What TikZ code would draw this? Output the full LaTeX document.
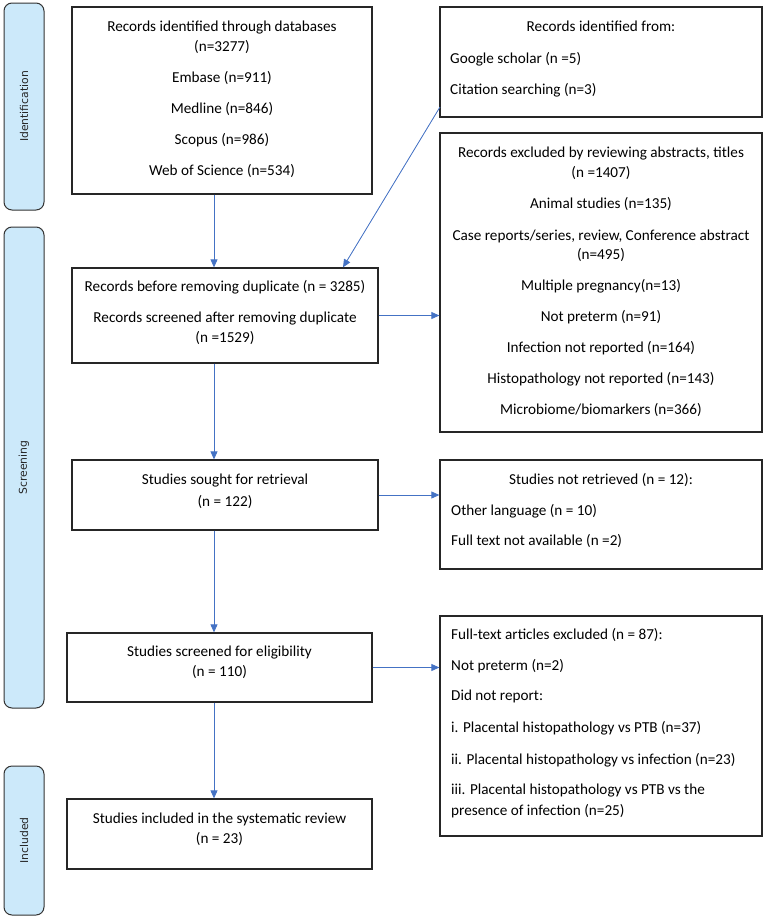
\documentclass[tikz,border=0pt]{standalone}
\usepackage{fontspec}
\setmainfont{Carlito}
\newfontfamily\sidefont{DejaVu Sans}
\usetikzlibrary{arrows.meta}
\definecolor{arrowblue}{HTML}{4472C4}
\definecolor{sidefill}{HTML}{CCE9FA}
\begin{document}
\begin{tikzpicture}[x=1pt,y=-1pt,
  box/.style={draw=black!85, line width=1.3pt, inner sep=0pt},
  side/.style={draw=black!80, line width=1pt, fill=sidefill, rounded corners=8pt, rotate=90, minimum height=40pt, inner sep=0pt, font=\sidefont\fontsize{10.8}{12}\selectfont, text=black!85},
  txt/.style={font=\fontsize{15.2}{18}\selectfont, inner sep=0pt, text height=10pt, text depth=3pt, text=black},
  lft/.style={txt, anchor=west},
  arr/.style={draw=arrowblue, line width=0.8pt, -{Triangle[length=8pt,width=7pt]}, fill=arrowblue}]
\useasboundingbox (0,0) rectangle (764,919);
\fill[white] (0,0) rectangle (764,919);

% side bars
\node[side, minimum width=207pt] (S1) at (24,106.5) {Identification};
\node[side, minimum width=481pt] (S2) at (24,467.5) {Screening};
\node[side, minimum width=149pt] (S3) at (24,840.5) {Included};

% boxes
\node[box, minimum width=300pt, minimum height=187pt] (A) at (222,100.5) {};
\node[box, minimum width=322pt, minimum height=110pt] (B) at (601,62) {};
\node[box, minimum width=322pt, minimum height=299pt] (C) at (601,282.5) {};
\node[box, minimum width=306pt, minimum height=95pt] (D) at (225,315.5) {};
\node[box, minimum width=306pt, minimum height=70pt] (E) at (225,495) {};
\node[box, minimum width=322pt, minimum height=109pt] (F) at (601,514.5) {};
\node[box, minimum width=305pt, minimum height=69pt] (G) at (219.5,667.5) {};
\node[box, minimum width=322pt, minimum height=220pt] (H) at (601,726) {};
\node[box, minimum width=305pt, minimum height=70pt] (I) at (219.5,834) {};

% texts A
\node[txt] (a1) at (222,28) {Records identified through databases};
\node[txt] (a2) at (222,48) {(n=3277)};
\node[txt] (a3) at (222,79) {Embase (n=911)};
\node[txt] (a4) at (222,110) {Medline (n=846)};
\node[txt] (a5) at (222,141) {Scopus (n=986)};
\node[txt] (a6) at (222,172) {Web of Science (n=534)};
% texts B
\node[txt] (b1) at (601,28) {Records identified from:};
\node[lft] (b2) at (450,60) {Google scholar (n =5)};
\node[lft] (b3) at (450,91) {Citation searching (n=3)};
% texts C
\node[txt] (c1) at (601,154) {Records excluded by reviewing abstracts, titles};
\node[txt] (c2) at (601,174) {(n =1407)};
\node[txt] (c3) at (601,205) {Animal studies (n=135)};
\node[txt] (c4) at (601,237) {Case reports/series, review, Conference abstract};
\node[txt] (c5) at (601,256) {(n=495)};
\node[txt] (c6) at (601,287) {Multiple pregnancy(n=13)};
\node[txt] (c7) at (601,318) {Not preterm (n=91)};
\node[txt] (c8) at (601,349) {Infection not reported (n=164)};
\node[txt] (c9) at (601,380) {Histopathology not reported (n=143)};
\node[txt] (c10) at (601,411) {Microbiome/biomarkers (n=366)};
% texts D
\node[txt] (d1) at (225,288) {Records before removing duplicate (n = 3285)};
\node[txt] (d2) at (225,319) {Records screened after removing duplicate};
\node[txt] (d3) at (225,339) {(n =1529)};
% texts E
\node[txt] (e1) at (225,481) {Studies sought for retrieval};
\node[txt] (e2) at (225,503) {(n = 122)};
% texts F
\node[txt] (f1) at (601,481) {Studies not retrieved (n = 12):};
\node[lft] (f2) at (451,512) {Other language (n = 10)};
\node[lft] (f3) at (451,542) {Full text not available (n =2)};
% texts G
\node[txt] (g1) at (219.5,653) {Studies screened for eligibility};
\node[txt] (g2) at (219.5,673) {(n = 110)};
% texts H
\node[lft] (h1) at (451,636) {Full-text articles excluded (n = 87):};
\node[lft] (h2) at (451,667) {Not preterm (n=2)};
\node[lft] (h3) at (451,697) {Did not report:};
\node[lft] (h4) at (451,729) {i. Placental histopathology vs PTB (n=37)};
\node[lft] (h5) at (451,761) {ii. Placental histopathology vs infection (n=23)};
\node[lft] (h6) at (451,791) {iii. Placental histopathology vs PTB vs the};
\node[lft] (h7) at (451,812) {presence of infection (n=25)};
% texts I
\node[txt] (i1) at (219.5,820) {Studies included in the systematic review};
\node[txt] (i2) at (219.5,840) {(n = 23)};

% connectors
\coordinate (vx) at (214,0);
\coordinate (dx) at (343,0);
\coordinate (bsrc) at (440,107);
\draw[arr] (A.south -| vx) -- (D.north -| vx);
\draw[arr] (bsrc) -- (D.north -| dx);
\draw[arr] (D.east) -- (D.east -| C.west);
\draw[arr] (D.south -| vx) -- (E.north -| vx);
\draw[arr] (E.east) -- (E.east -| F.west);
\draw[arr] (E.south -| vx) -- (G.north -| vx);
\draw[arr] (G.east) -- (G.east -| H.west);
\draw[arr] (G.south -| vx) -- (I.north -| vx);
\end{tikzpicture}
\end{document}
